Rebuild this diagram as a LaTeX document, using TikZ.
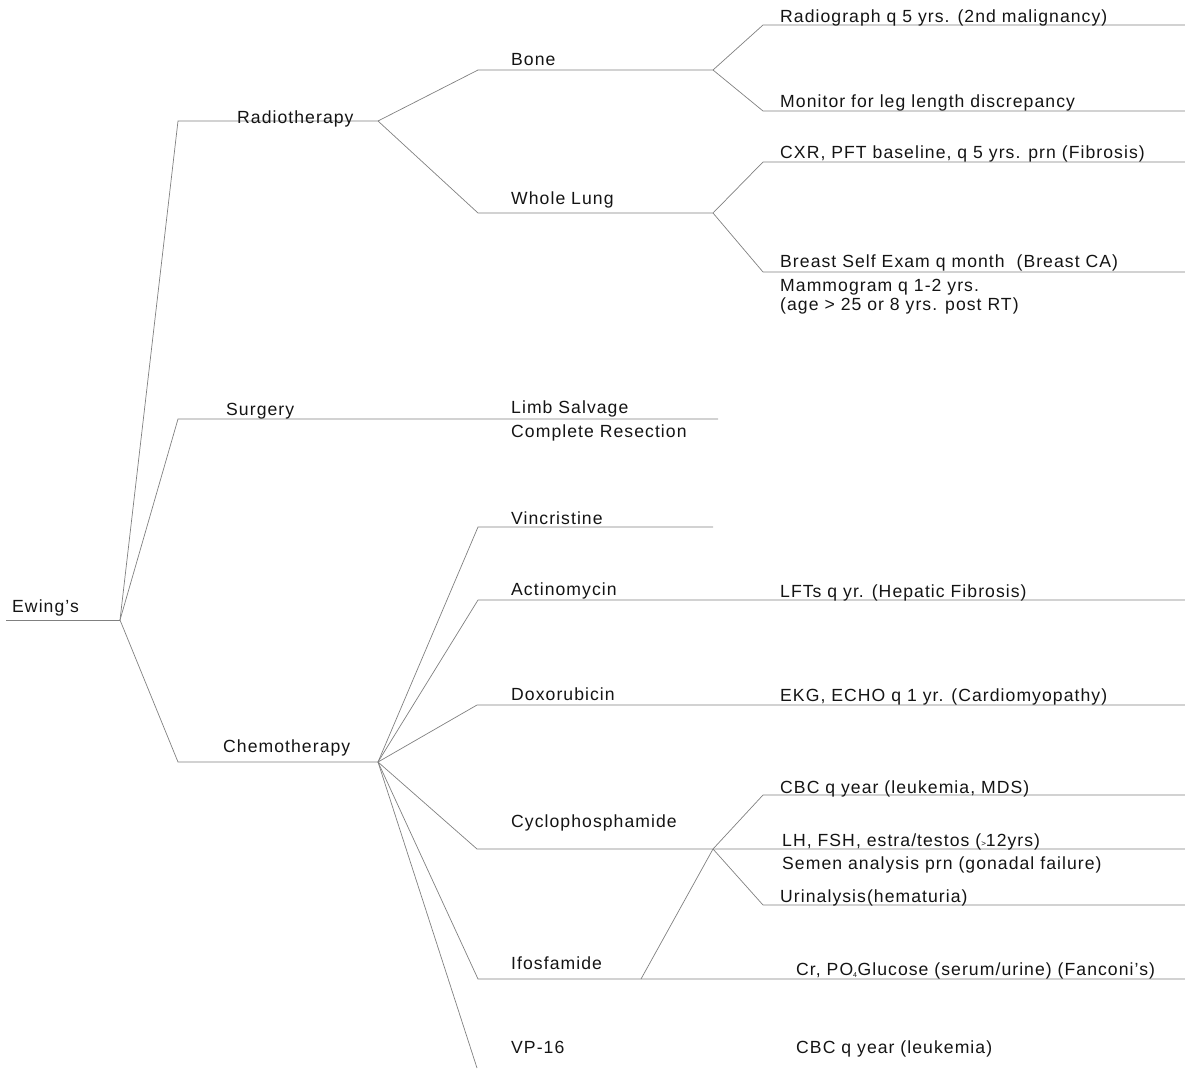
\documentclass[tikz,border=0pt]{standalone}
\usepackage{fontspec}
\setmainfont[LetterSpace=6]{Liberation Sans}
\begin{document}
\begin{tikzpicture}[x=1pt,y=-1pt,
		branch/.style={draw=black!50, line width=0.7pt},
		lbl/.style={anchor=base west, inner sep=0pt, text=black!92, font=\fontsize{17.6}{21}\selectfont}]
		\useasboundingbox (0,0) rectangle (1185,1068);
		
		% junctions
		\coordinate (root) at (6,620);   \coordinate (hub) at (120,620);
		\coordinate (rtA) at (178,121);  \coordinate (rtB) at (378,121);
		\coordinate (sgA) at (178,419);  \coordinate (sgB) at (718,419);
		\coordinate (chA) at (178,762);  \coordinate (chB) at (378,762);
		\coordinate (boneA) at (478,70); \coordinate (boneB) at (713,70);
		\coordinate (radA) at (763,25);  \coordinate (radB) at (1185,25);
		\coordinate (monA) at (763,111); \coordinate (monB) at (1185,111);
		\coordinate (lungA) at (478,213); \coordinate (lungB) at (713,213);
		\coordinate (cxrA) at (763,162); \coordinate (cxrB) at (1185,162);
		\coordinate (bseA) at (763,272); \coordinate (bseB) at (1185,272);
		\coordinate (vinA) at (478,527); \coordinate (vinB) at (713,527);
		\coordinate (actA) at (478,600); \coordinate (actB) at (1185,600);
		\coordinate (doxA) at (477,705); \coordinate (doxB) at (1185,705);
		\coordinate (cycA) at (477,849); \coordinate (cycM) at (713,849); \coordinate (cycB) at (1185,849);
		\coordinate (cbcA) at (763,795); \coordinate (cbcB) at (1185,795);
		\coordinate (uriA) at (763,905); \coordinate (uriB) at (1185,905);
		\coordinate (ifoA) at (478,979); \coordinate (ifoM) at (641,979); \coordinate (ifoB) at (1185,979);
		\coordinate (vpA) at (477,1068);
		
		% tree
		\draw[branch] (root) -- (hub);
		\draw[branch] (hub) -- (rtA) -- (rtB);
		\draw[branch] (hub) -- (sgA) -- (sgB);
		\draw[branch] (hub) -- (chA) -- (chB);
		\draw[branch] (rtB) -- (boneA) -- (boneB);
		\draw[branch] (rtB) -- (lungA) -- (lungB);
		\draw[branch] (boneB) -- (radA) -- (radB);
		\draw[branch] (boneB) -- (monA) -- (monB);
		\draw[branch] (lungB) -- (cxrA) -- (cxrB);
		\draw[branch] (lungB) -- (bseA) -- (bseB);
		\draw[branch] (chB) -- (vinA) -- (vinB);
		\draw[branch] (chB) -- (actA) -- (actB);
		\draw[branch] (chB) -- (doxA) -- (doxB);
		\draw[branch] (chB) -- (cycA) -- (cycB);
		\draw[branch] (chB) -- (ifoA) -- (ifoB);
		\draw[branch] (chB) -- (vpA);
		\draw[branch] (cycM) -- (cbcA) -- (cbcB);
		\draw[branch] (cycM) -- (uriA) -- (uriB);
		\draw[branch] (ifoM) -- (cycM);
		
		% labels
		\node[lbl] (ewing) at (12,612) {Ewing's};
		\node[lbl] (radio) at (237,123) {Radiotherapy};
		\node[lbl] (surgery) at (226,415) {Surgery};
		\node[lbl] (chemo) at (223,752) {Chemotherapy};
		\node[lbl] (bone) at (511,65) {Bone};
		\node[lbl] (lung) at (511,204) {Whole Lung};
		\node[lbl] (radiograph) at (780,22) {Radiograph q 5 yrs. (2nd malignancy)};
		\node[lbl] (monitor) at (780,107) {Monitor for leg length discrepancy};
		\node[lbl] (cxr) at (780,158) {CXR, PFT baseline, q 5 yrs. prn (Fibrosis)};
		\node[lbl] (breast) at (780,267) {Breast Self Exam q month\ \ (Breast CA)};
		\node[lbl] (mammo) at (780,291) {Mammogram q 1-2 yrs.};
		\node[lbl] (mammoage) at (780,310) {(age > 25 or 8 yrs. post RT)};
		\node[lbl] (limb) at (511,413) {Limb Salvage};
		\node[lbl] (resect) at (511,437) {Complete Resection};
		\node[lbl] (vinc) at (511,524) {Vincristine};
		\node[lbl] (actino) at (511,595) {Actinomycin};
		\node[lbl] (doxo) at (511,700) {Doxorubicin};
		\node[lbl] (cyclo) at (511,827) {Cyclophosphamide};
		\node[lbl] (ifos) at (511,969) {Ifosfamide};
		\node[lbl] (vp) at (511,1053) {VP-16};
		\node[lbl] (lfts) at (780,597) {LFTs q yr. (Hepatic Fibrosis)};
		\node[lbl] (ekg) at (780,701) {EKG, ECHO q 1 yr. (Cardiomyopathy)};
		\node[lbl] (cbc) at (780,793) {CBC q year (leukemia, MDS)};
		\node[lbl] (lh) at (782,846) {LH, FSH, estra/testos ({\footnotesize >}12\kern1pt yrs)};
		\node[lbl] (semen) at (782,869) {Semen analysis prn (gonadal failure)};
		\node[lbl] (urin) at (780,902) {Urinalysis(hematuria)};
		\node[lbl] (crpo) at (796,975) {Cr, PO\textsubscript{\scriptsize 4}Glucose (serum/urine) (Fanconi's)};
		\node[lbl] (cbcleuk) at (796,1053) {CBC q year (leukemia)};
	\end{tikzpicture}
\end{document}
